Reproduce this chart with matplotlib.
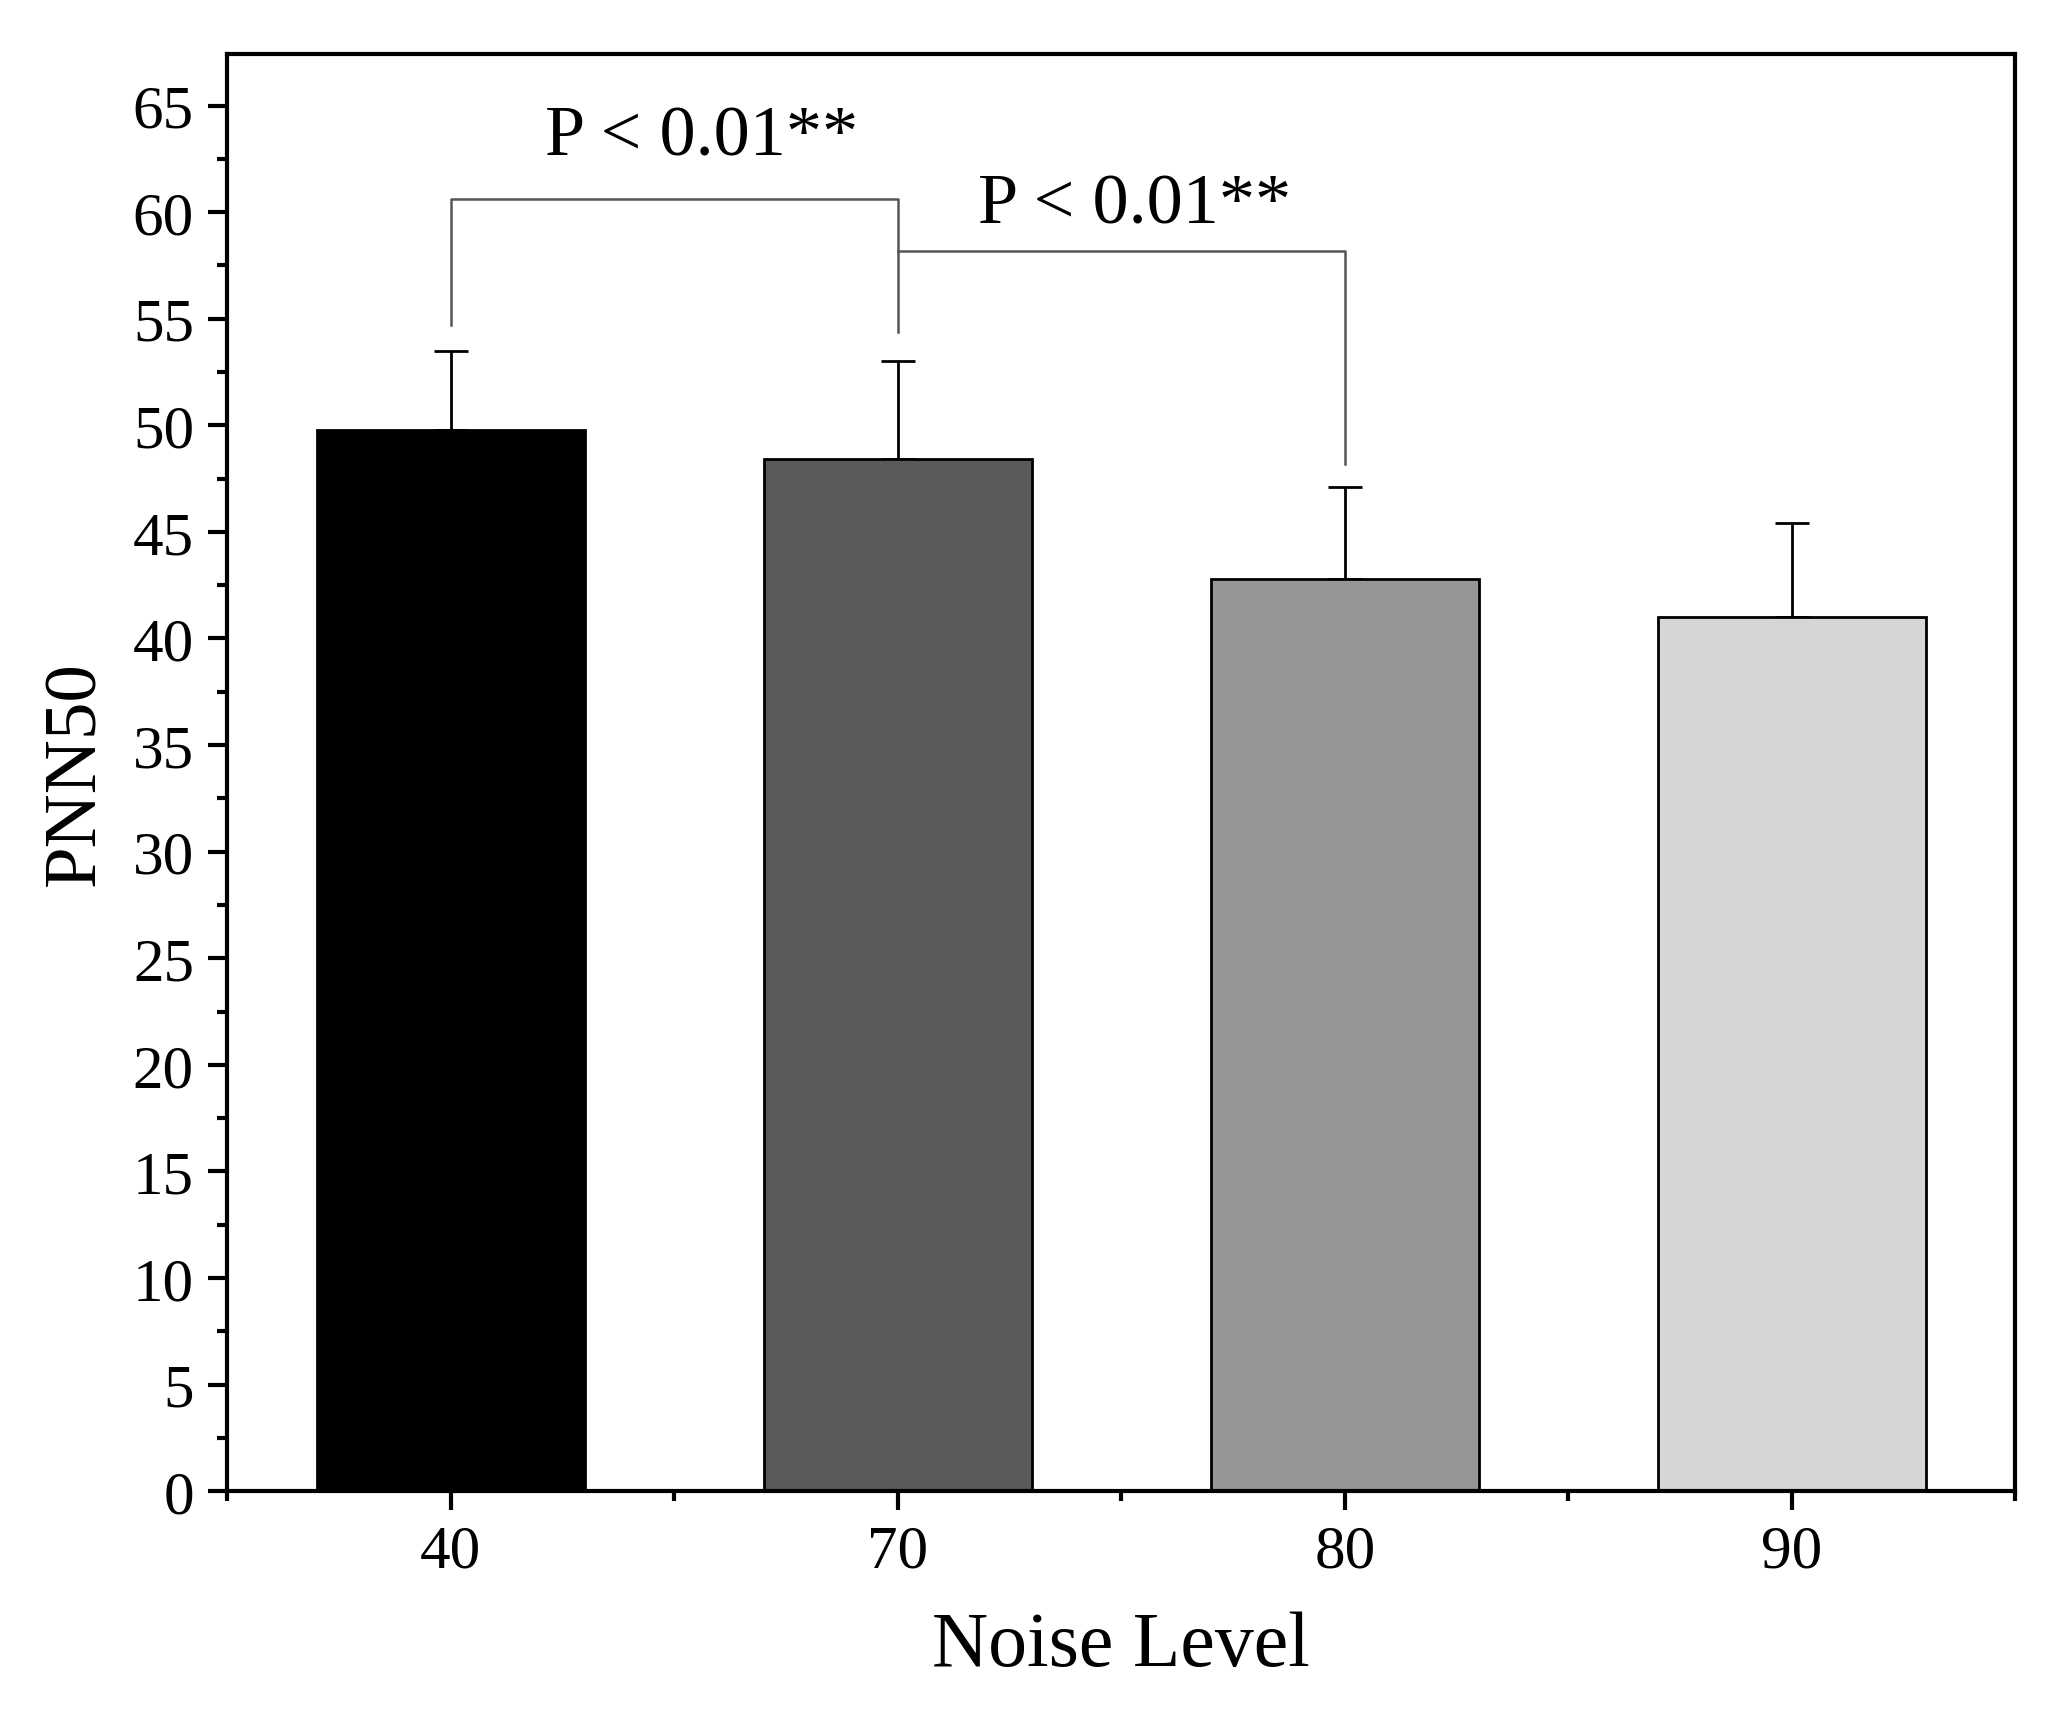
import matplotlib
matplotlib.use("Agg")
import matplotlib.pyplot as plt
from matplotlib.ticker import MultipleLocator

categories = ["40", "70", "80", "90"]
values = [49.8, 48.4, 42.8, 41.0]
errors = [3.7, 4.6, 4.3, 4.4]
colors = ["#000000", "#5a5a5a", "#969696", "#d6d6d6"]

plt.rcParams["font.family"] = "Liberation Serif"
fig = plt.figure(figsize=(20.48, 17.31), dpi=100)
ax = fig.add_axes([0.111, 0.138, 0.873, 0.83])
x = list(range(len(categories)))
ax.bar(x, values, width=0.6, color=colors, edgecolor="black", linewidth=2, zorder=2)
ax.errorbar(x, values, yerr=[[0]*4, errors], fmt="none", ecolor="black",
            elinewidth=2, capsize=12, capthick=2, zorder=1)

ax.set_xlim(-0.5, 3.5)
ax.set_ylim(0, 67.4)
ax.set_xticks(x)
ax.set_xticklabels(categories)
ax.xaxis.set_minor_locator(MultipleLocator(0.5))
ax.yaxis.set_major_locator(MultipleLocator(5))
ax.yaxis.set_minor_locator(MultipleLocator(2.5))
for s in ax.spines.values():
    s.set_linewidth(3)
ax.tick_params(axis="both", which="major", direction="out", length=14, width=3, labelsize=44, pad=10)
ax.tick_params(axis="both", which="minor", direction="out", length=7, width=3)
ax.set_xlabel("Noise Level", fontsize=56, labelpad=22)
ax.set_ylabel("PNN50", fontsize=54, labelpad=16)

lc = "#555555"
ax.plot([0, 0, 1, 1], [54.7, 60.6, 60.6, 54.4], color=lc, lw=1.8)
ax.plot([1, 1, 2, 2], [58.2, 58.2, 58.2, 48.2], color=lc, lw=1.8)
ax.text(0.56, 62.0, "P < 0.01**", fontsize=52, ha="center", va="bottom")
ax.text(1.53, 58.8, "P < 0.01**", fontsize=52, ha="center", va="bottom")

fig.savefig("out.png", dpi=100)
